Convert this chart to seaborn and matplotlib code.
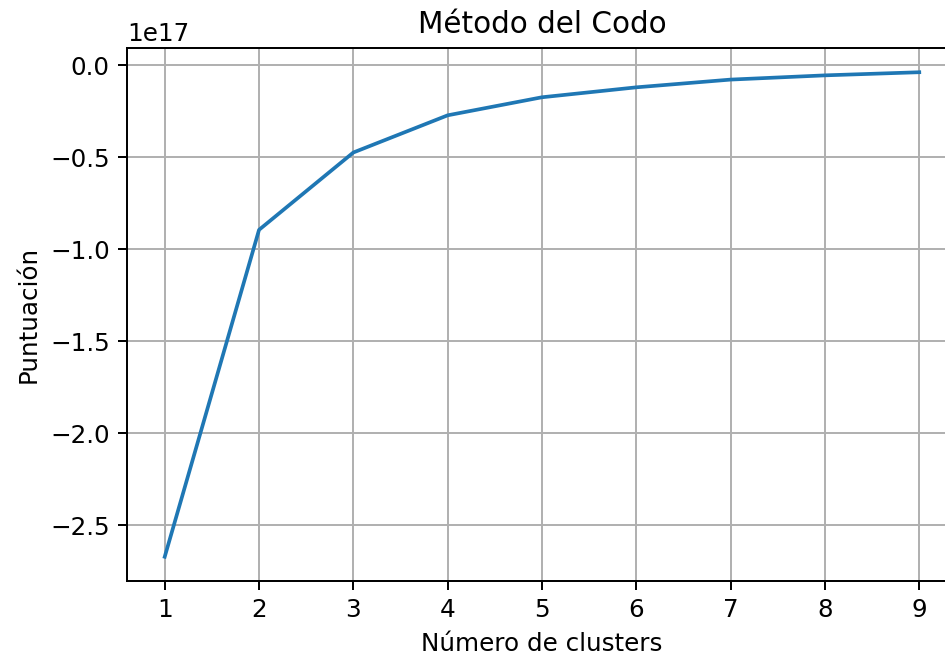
import matplotlib
matplotlib.use("Agg")
import matplotlib.pyplot as plt
import seaborn as sns
import pandas as pd

clusters = [1, 2, 3, 4, 5, 6, 7, 8, 9]
scores = [-2.67e17, -0.894e17, -0.474e17, -0.272e17, -0.174e17, -0.120e17, -0.078e17, -0.055e17, -0.038e17]

df = pd.DataFrame({"k": clusters, "score": scores})

DPI = 177
fig = plt.figure(figsize=(945 / DPI, 655 / DPI), dpi=DPI)
ax = fig.add_axes([127 / 945, 1 - 581 / 655, (957 - 127) / 945, (581 - 48) / 655])
sns.lineplot(data=df, x="k", y="score", ax=ax, color="tab:blue", linewidth=1.5)
ax.grid(True)
ax.set_xlabel("Número de clusters")
ax.set_ylabel("Puntuación")
ax.set_title("Método del Codo")
fig.savefig("out.png", dpi=DPI)
